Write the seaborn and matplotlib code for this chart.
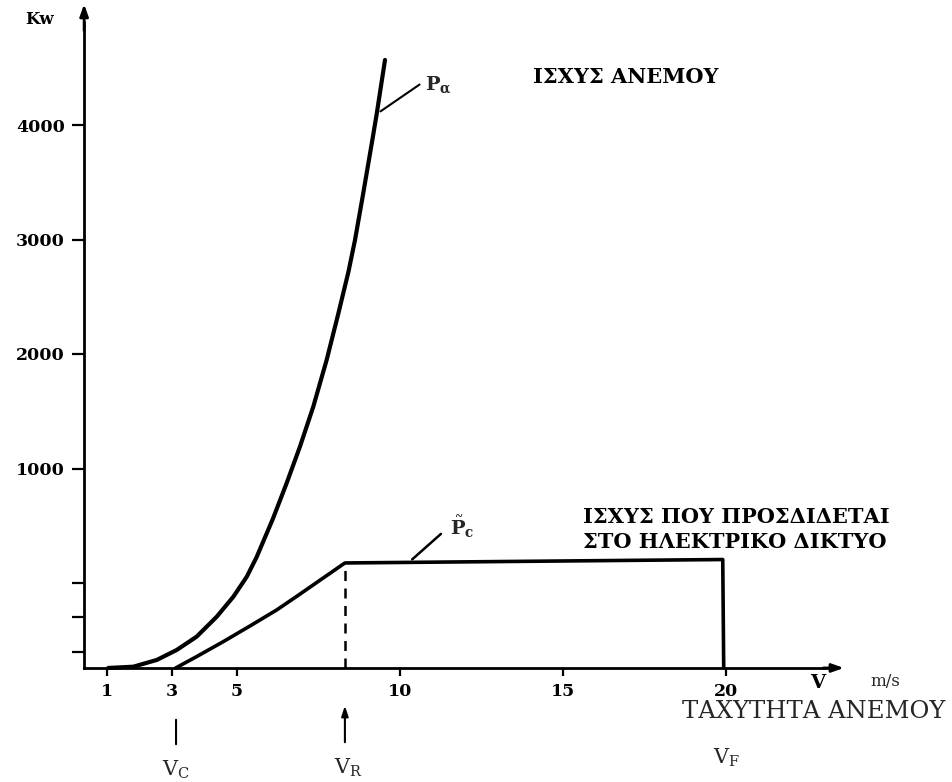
import numpy as np
import pandas as pd
import matplotlib
matplotlib.use("Agg")
import matplotlib.pyplot as plt
import seaborn as sns

# ---- data (y in the chart's kW scale) ----
pa_speed = [1.05, 1.82, 2.54, 3.15, 3.76, 4.38, 4.89, 5.30, 5.60, 6.10, 6.52, 6.93,
            7.34, 7.75, 8.11, 8.42, 8.62, 8.87, 9.17, 9.29, 9.54]
pa_power = [-742, -731, -672, -585, -469, -294, -119, 55, 225, 560, 870, 1190,
            1540, 1948, 2355, 2720, 2996, 3400, 3900, 4105, 4568]

pc_speed = [3.12, 3.76, 4.58, 5.40, 6.22, 6.84, 8.31, 19.90, 19.93]
pc_power = [-742, -643, -512, -375, -235, -115, 175, 205, -742]

x_ticks = [1, 3, 5, 10, 15, 20]
x_ticklabels = ["1", "3", "5", "10", "15", "20"]
y_ticks = [-600, -300, 0, 1000, 2000, 3000, 4000]
y_ticklabels = ["", "", "", "1000", "2000", "3000", "4000"]

v_cut_in = 3.13
v_rated = 8.31
v_furling = 19.93
axis_floor = -742

sns.set_style("white")
plt.rcParams['font.family'] = ['DejaVu Serif']
plt.rcParams['mathtext.fontset'] = 'dejavuserif'

W, H = 952, 782
fig = plt.figure(figsize=(W / 100, H / 100), dpi=100)
ax = fig.add_axes([0, 0, 1, 1])
ax.set_xlim(-74 / 32.6, (W - 74) / 32.6)
ax.set_ylim((583 - H) / 0.1145, 583 / 0.1145)

df_a = pd.DataFrame({"v": pa_speed, "p": pa_power})
df_c = pd.DataFrame({"v": pc_speed, "p": pc_power})
sns.lineplot(data=df_a, x="v", y="p", ax=ax, color="black", linewidth=3.0,
             sort=False, estimator=None)
sns.lineplot(data=df_c, x="v", y="p", ax=ax, color="black", linewidth=2.6,
             sort=False, estimator=None)
for ln in ax.lines:
    ln.set_solid_joinstyle("round")
    ln.set_solid_capstyle("round")

# dashed line under rated speed
ax.plot([v_rated, v_rated], [axis_floor, pc_power[6]], color="black",
        linewidth=1.8, linestyle=(0, (4, 3)))

# axes as arrows
y_axis_x = 0.31
x_axis_end = 23.2
y_axis_top = 4900
for s in ["top", "right"]:
    ax.spines[s].set_visible(False)
ax.spines["left"].set_position(("data", y_axis_x))
ax.spines["bottom"].set_position(("data", axis_floor))
ax.spines["left"].set_bounds(axis_floor, y_axis_top)
ax.spines["bottom"].set_bounds(y_axis_x, x_axis_end)
for s in ["left", "bottom"]:
    ax.spines[s].set_linewidth(2.0)
    ax.spines[s].set_color("black")
ax.annotate("", xy=(y_axis_x, y_axis_top + 180), xytext=(y_axis_x, y_axis_top - 100),
            arrowprops=dict(arrowstyle="-|>,head_length=0.7,head_width=0.25",
                            color="black", lw=2.0))
ax.annotate("", xy=(x_axis_end + 0.5, axis_floor), xytext=(x_axis_end - 0.3, axis_floor),
            arrowprops=dict(arrowstyle="-|>,head_length=0.7,head_width=0.25",
                            color="black", lw=2.0))

ax.set_xticks(x_ticks)
ax.set_xticklabels(x_ticklabels)
ax.set_yticks(y_ticks)
ax.set_yticklabels(y_ticklabels)
ax.tick_params(axis="both", which="major", direction="out", left=True, bottom=True,
               colors="black", width=1.6)
ax.tick_params(axis="y", length=9, pad=5, labelsize=12.5)
ax.tick_params(axis="x", length=6, pad=5, labelsize=12.5)
for lab in ax.get_xticklabels() + ax.get_yticklabels():
    lab.set_fontweight("bold")
ax.set_xlabel("")
ax.set_ylabel("")
ax.grid(False)

tfont = dict(color="black", fontweight="bold")

def fx(px):
    return px / W

def fy(py):
    return 1 - py / H

fig.text(fx(40), fy(20), "Kw", ha="center", va="center", fontsize=12, **tfont)
fig.text(fx(425), fy(85), r"$\mathbf{P}_{\mathbf{\alpha}}$", ha="left", va="center", fontsize=14)
fig.text(fx(533), fy(77), "ΙΣΧΥΣ ΑΝΕΜΟΥ", ha="left", va="center", fontsize=15, **tfont)
fig.text(fx(450), fy(527), r"$\tilde{\mathbf{P}}_{\mathbf{c}}$", ha="left", va="center", fontsize=14)
fig.text(fx(583), fy(517), "ΙΣΧΥΣ ΠΟΥ ΠΡΟΣΔΙΔΕΤΑΙ", ha="left", va="center", fontsize=15, **tfont)
fig.text(fx(583), fy(542), "ΣΤΟ ΗΛΕΚΤΡΙΚΟ ΔΙΚΤΥΟ", ha="left", va="center", fontsize=15, **tfont)
fig.text(fx(818), fy(683), "V", ha="center", va="center", fontsize=14, **tfont)
fig.text(fx(885), fy(681), "m/s", ha="center", va="center", fontsize=12)
fig.text(fx(945), fy(712), "ΤΑΧΥΤΗΤΑ ΑΝΕΜΟΥ", ha="right", va="center", fontsize=17.5)
fig.text(fx(176), fy(770), r"$\mathrm{V_C}$", ha="center", va="center", fontsize=15)
fig.text(fx(348), fy(768), r"$\mathrm{V_R}$", ha="center", va="center", fontsize=15)
fig.text(fx(727), fy(758), r"$\mathrm{V_F}$", ha="center", va="center", fontsize=15)

# leaders
ax.annotate("", xy=(9.33, 4105), xytext=(10.67, 4367),
            arrowprops=dict(arrowstyle="-", color="black", lw=1.5))
ax.annotate("", xy=(10.31, 190), xytext=(11.32, 445),
            arrowprops=dict(arrowstyle="-", color="black", lw=1.8))

# markers below the speed axis
ax.annotate("", xy=(v_cut_in, (583 - 717) / 0.1145), xytext=(v_cut_in, (583 - 747) / 0.1145),
            arrowprops=dict(arrowstyle="-", color="black", lw=1.5))
ax.annotate("", xy=(v_rated, (583 - 703) / 0.1145), xytext=(v_rated, (583 - 745) / 0.1145),
            arrowprops=dict(arrowstyle="-|>,head_length=0.6,head_width=0.2", color="black", lw=1.5))

fig.savefig("out.png", dpi=100, facecolor="white")
